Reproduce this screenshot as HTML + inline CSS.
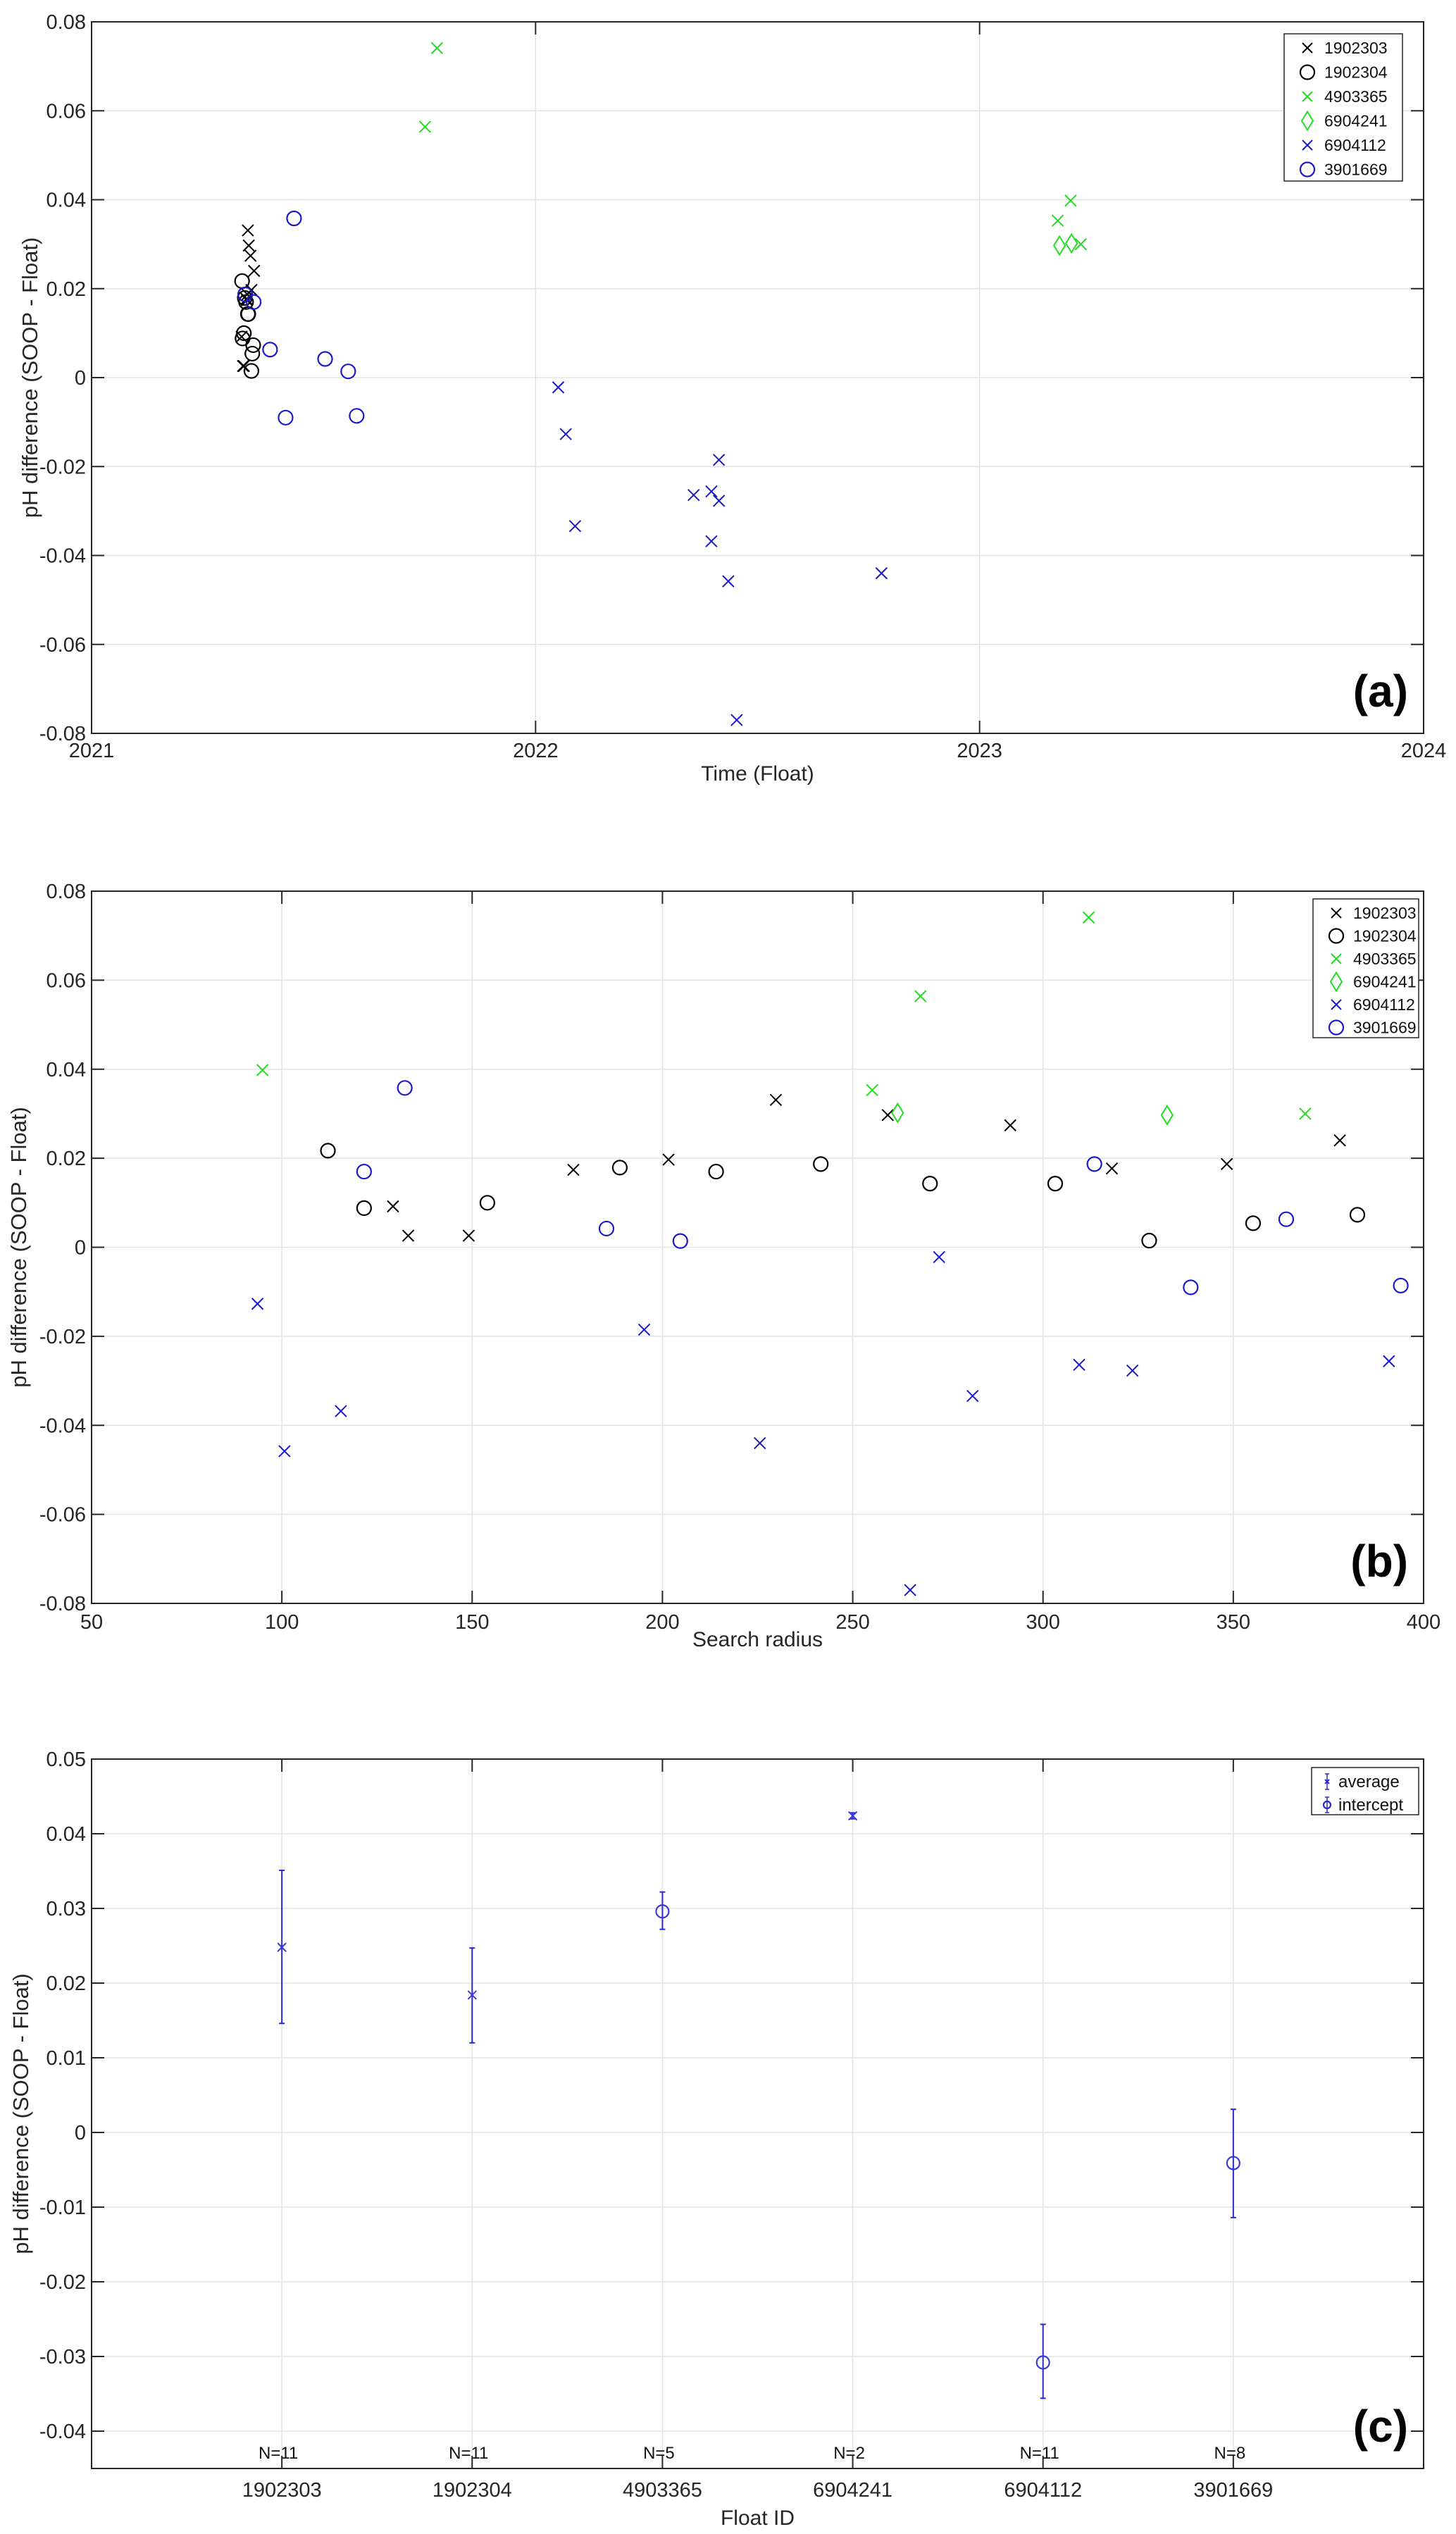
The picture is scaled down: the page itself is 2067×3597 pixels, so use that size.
<!DOCTYPE html>
<html><head><meta charset="utf-8">
<style>
html,body{margin:0;padding:0;background:#fff;}
svg{display:block;font-family:"Liberation Sans",sans-serif;}
</style></head>
<body>
<svg id="fig" width="2067" height="3597" viewBox="0 0 2067 3597" xmlns="http://www.w3.org/2000/svg"></svg>
<script>
// ---- data ----
const floatIds = ["1902303","1902304","4903365","6904241","6904112","3901669"];
const markerTypes = ["x","o","x","d","x","o"];
const colors = ["#000000","#000000","#22dd22","#22dd22","#1a1acc","#1a1acc"];
const diff1902303 = [0.0092,0.0026,0.0026,0.0174,0.0197,0.0331,0.0297,0.0274,0.0177,0.0187,0.0240];
const radius1902303 = [129.2,133.2,149.1,176.6,201.6,229.8,259.2,291.4,318.1,348.3,378.0];
const time1902303 = [2021.338,2021.341,2021.343,2021.350,2021.360,2021.352,2021.354,2021.358,2021.349,2021.351,2021.366];
const diff1902304 = [0.0217,0.0088,0.0100,0.0179,0.0170,0.0187,0.0143,0.0143,0.0015,0.0054,0.0073];
const radius1902304 = [112.1,121.6,154.0,188.8,214.1,241.6,270.3,303.2,327.9,355.2,382.6];
const time1902304 = [2021.339,2021.340,2021.343,2021.345,2021.348,2021.346,2021.352,2021.353,2021.360,2021.362,2021.364];
const diff4903365 = [0.0398,0.0353,0.0564,0.0741,0.0300];
const radius4903365 = [94.9,255.1,267.8,312.0,368.9];
const time4903365 = [2023.205,2023.176,2021.751,2021.778,2023.228];
const diff6904241 = [0.0302,0.0297];
const radius6904241 = [261.8,332.6];
const time6904241 = [2023.207,2023.180];
const diff6904112 = [-0.0127,-0.0458,-0.0368,-0.0185,-0.0440,-0.0770,-0.0022,-0.0334,-0.0264,-0.0277,-0.0256];
const radius6904112 = [93.6,100.7,115.5,195.2,225.6,265.1,272.7,281.5,309.5,323.5,390.9];
const time6904112 = [2022.068,2022.434,2022.396,2022.413,2022.779,2022.453,2022.051,2022.089,2022.356,2022.413,2022.396];
const diff3901669 = [0.0170,0.0358,0.0042,0.0014,0.0187,-0.0090,0.0063,-0.0086];
const radius3901669 = [121.6,132.3,185.3,204.7,313.5,338.8,363.9,394.0];
const time3901669 = [2021.365,2021.456,2021.526,2021.578,2021.346,2021.437,2021.402,2021.597];
const summaryValues = [0.0248,0.0184,0.0296,0.0424,-0.0308,-0.0041];
const summaryUpper = [0.0351,0.0247,0.0322,0.0428,-0.0257,0.0031];
const summaryLower = [0.0146,0.0120,0.0272,0.0420,-0.0356,-0.0114];
const summaryMarker = ["x","x","o","x","o","o"];
const summaryN = ["N=11","N=11","N=5","N=2","N=11","N=8"];
const yTicksAB = [0.08,0.06,0.04,0.02,0,-0.02,-0.04,-0.06,-0.08];
const yTickLabelsAB = ["0.08","0.06","0.04","0.02","0","-0.02","-0.04","-0.06","-0.08"];
const xTicksA = [2021,2022,2023,2024];
const xTicksB = [50,100,150,200,250,300,350,400];
const yTicksC = [0.05,0.04,0.03,0.02,0.01,0,-0.01,-0.02,-0.03,-0.04];
const yTickLabelsC = ["0.05","0.04","0.03","0.02","0.01","0","-0.01","-0.02","-0.03","-0.04"];

const diffs = [diff1902303,diff1902304,diff4903365,diff6904241,diff6904112,diff3901669];
const radii = [radius1902303,radius1902304,radius4903365,radius6904241,radius6904112,radius3901669];
const times = [time1902303,time1902304,time4903365,time6904241,time6904112,time3901669];

const NS="http://www.w3.org/2000/svg";
const svg=document.getElementById('fig');
function mk(tag,attrs,parent){const e=document.createElementNS(NS,tag);for(const k in attrs)e.setAttribute(k,attrs[k]);(parent||svg).appendChild(e);return e;}
function txt(s,attrs,parent){const e=mk('text',attrs,parent);e.textContent=s;return e;}

function marker(g,type,x,y,color,size){
  let e;
  if(type==='x'){
    e=mk('path',{d:`M${x-size},${y-size}L${x+size},${y+size}M${x-size},${y+size}L${x+size},${y-size}`,stroke:color,'stroke-width':2,fill:'none'},g);
  }else if(type==='o'){
    e=mk('circle',{cx:x,cy:y,r:size+2,stroke:color,'stroke-width':2.2,fill:'none'},g);
  }else{
    e=mk('path',{d:`M${x},${y-size-5}L${x+size},${y}L${x},${y+size+5}L${x-size},${y}Z`,stroke:color,'stroke-width':2,fill:'none'},g);
  }
  return e;
}

function axes(name,L,R,T,B,xmin,xmax,ymin,ymax,xt,xtl,yt,ytl,xlabel,ylabelX,panelLabel,xtlY,xTitleOff){
  const g=mk('g',{});
  
  
  const sx=v=>L+(v-xmin)/(xmax-xmin)*(R-L);
  const sy=v=>T+(ymax-v)/(ymax-ymin)*(B-T);
  xt.forEach((v,i)=>{const x=sx(v);
    const gl=mk('line',{x1:x,x2:x,y1:T,y2:B,stroke:'#e3e3e3','stroke-width':1.5},g);
    
    mk('line',{x1:x,x2:x,y1:B,y2:B-18,stroke:'#262626','stroke-width':2},g);
    mk('line',{x1:x,x2:x,y1:T,y2:T+18,stroke:'#262626','stroke-width':2},g);
    const t=txt(xtl[i],{x:x,y:xtlY,'font-size':29,'text-anchor':'middle',fill:'#262626'},g);
    
  });
  yt.forEach((v,i)=>{const y=sy(v);
    const gl=mk('line',{x1:L,x2:R,y1:y,y2:y,stroke:'#e3e3e3','stroke-width':1.5},g);
    
    mk('line',{x1:L,x2:L+18,y1:y,y2:y,stroke:'#262626','stroke-width':2},g);
    mk('line',{x1:R,x2:R-18,y1:y,y2:y,stroke:'#262626','stroke-width':2},g);
    const t=txt(ytl[i],{x:L-8,y:y+10,'font-size':29,'text-anchor':'end',fill:'#262626'},g);
    
  });
  const box=mk('rect',{x:L,y:T,width:R-L,height:B-T,fill:'none',stroke:'#262626','stroke-width':2},g);
  
  const xl=txt(xlabel,{x:(L+R)/2,y:xtlY+xTitleOff,'font-size':30,'text-anchor':'middle',fill:'#262626'},g);
  
  const cy=(T+B)/2;
  const yl=txt('pH difference (SOOP - Float)',{x:ylabelX,y:cy,'font-size':31,'text-anchor':'middle',fill:'#262626',transform:`rotate(-90 ${ylabelX} ${cy})`},g);
  
  const pl=txt(panelLabel,{x:R-22,y:B-38,'font-size':64,'font-weight':'bold','text-anchor':'end',fill:'#000'},g);
  
  return {g,sx,sy};
}

function legend(g,x0,y0,w,h,step){
  const lg=mk('g',{},g);
  
  
  mk('rect',{x:x0,y:y0,width:w,height:h,fill:'#fff',stroke:'#262626','stroke-width':1.5},lg);
  floatIds.forEach((id,i)=>{
    const y=y0+20+step*i;
    const e=mk('g',{},lg);
    
    
    marker(e,markerTypes[i],x0+33,y,colors[i],markerTypes[i]==='x'?7:8);
    txt(id,{x:x0+57,y:y+8,'font-size':23,fill:'#111'},e);
  });
}

// ---- panel a ----
const A=axes('panel-a-time',130,2021,31,1041,2021,2024,-0.08,0.08,xTicksA,xTicksA.map(String),yTicksAB,yTickLabelsAB,'Time (Float)',53,'(a)',1075,33);
floatIds.forEach((id,s)=>{
  const sg=mk('g',{},A.g);
  
  
  diffs[s].forEach((v,i)=>{
    const m=marker(sg,markerTypes[s],A.sx(times[s][i]),A.sy(v),colors[s],8);
    
    
  });
});
legend(A.g,1823,48,168,209,34.5);

// ---- panel b ----
const B=axes('panel-b-radius',130,2021,1265,2276,50,400,-0.08,0.08,xTicksB,xTicksB.map(String),yTicksAB,yTickLabelsAB,'Search radius',37,'(b)',2312,25);
floatIds.forEach((id,s)=>{
  const sg=mk('g',{},B.g);
  
  
  diffs[s].forEach((v,i)=>{
    const m=marker(sg,markerTypes[s],B.sx(radii[s][i]),B.sy(v),colors[s],8);
    
    
  });
});
legend(B.g,1864,1276,150,197,32.5);

// ---- panel c ----
const catX=[1,2,3,4,5,6];
const C=axes('panel-c-summary',130,2021,2497,3504,0,7,-0.045,0.05,catX,floatIds,yTicksC,yTickLabelsC,'Float ID',40,'(c)',3544,40);
summaryValues.forEach((v,i)=>{
  const x=C.sx(catX[i]);
  const eg=mk('g',{},C.g);
  
  
  const yu=C.sy(summaryUpper[i]),yl=C.sy(summaryLower[i]);
  mk('line',{x1:x,x2:x,y1:yu,y2:yl,stroke:'#2a2ad0','stroke-width':2},eg);
  mk('line',{x1:x-4,x2:x+4,y1:yu,y2:yu,stroke:'#2a2ad0','stroke-width':2},eg);
  mk('line',{x1:x-4,x2:x+4,y1:yl,y2:yl,stroke:'#2a2ad0','stroke-width':2},eg);
  marker(eg,summaryMarker[i],x,C.sy(v),'#3a3ad8',summaryMarker[i]==='x'?6:7);
  const n=txt(summaryN[i],{x:x-5,y:3490,'font-size':24,'text-anchor':'middle',fill:'#111'},C.g);
  
  
});
const lc=mk('g',{},C.g);


mk('rect',{x:1862,y:2509,width:152,height:67,fill:'#fff',stroke:'#262626','stroke-width':1.5},lc);
[['average','x',2529],['intercept','o',2562]].forEach(([lab,t,y])=>{
  const e=mk('g',{},lc);
  
  
  mk('line',{x1:1884,x2:1884,y1:y-11,y2:y+11,stroke:'#2a2ad0','stroke-width':1.5},e);
  mk('line',{x1:1881,x2:1887,y1:y-11,y2:y-11,stroke:'#2a2ad0','stroke-width':1.5},e);
  mk('line',{x1:1881,x2:1887,y1:y+11,y2:y+11,stroke:'#2a2ad0','stroke-width':1.5},e);
  marker(e,t,1884,y,'#2a2ad0',3);
  txt(lab,{x:1900,y:y+8,'font-size':24,fill:'#111'},e);
});
</script>
</body></html>
